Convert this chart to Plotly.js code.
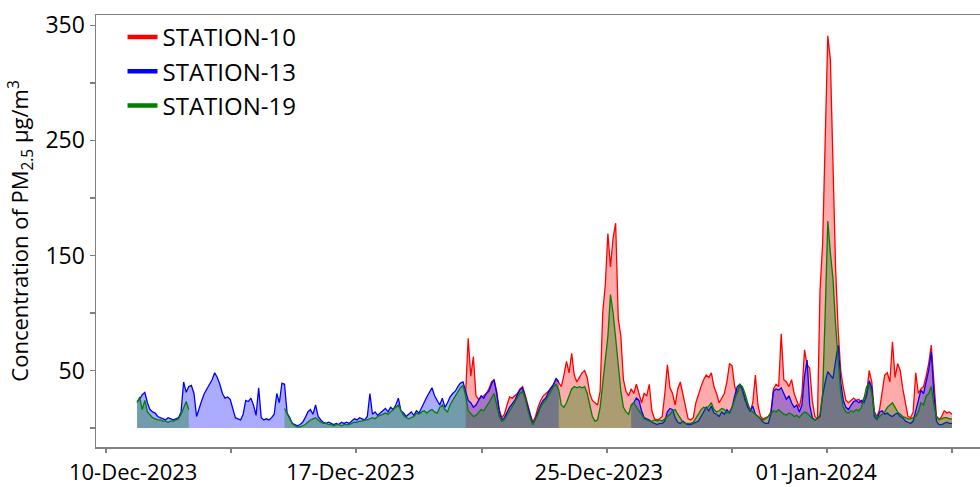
<!DOCTYPE html>
<html>
<head>
<meta charset="utf-8">
<script src="https://cdn.plot.ly/plotly-3.0.1.min.js"></script>
<style>html,body{margin:0;padding:0;background:#fff;}#chart{width:980px;height:487px;}</style>
</head>
<body>
<div id="chart"></div>
<script>
// Readings in 2-hour steps starting 2023-12-10 03:00
const START = '2023-12-10T03:00:00Z';
const STEP_HOURS = 2;

const station13 = [
23,25,29,31,22,16,14,13,10,9,
8,7,9,8,7,8,9,14,40,31,
36,37,30,10,18,24,30,34,38,42,
48,44,38,30,26,27,25,18,9,8,
7,12,24,23,26,20,11,35,9,7,
8,7,9,12,30,22,39,38,13,9,
4,3,2,3,5,9,14,16,12,20,
10,7,5,4,5,4,3,4,3,5,
4,5,4,6,8,7,9,8,7,10,
30,12,14,11,13,15,17,14,18,16,
20,26,15,13,10,12,14,11,15,13,
18,22,27,31,35,28,24,20,26,18,
22,27,30,32,36,39,40,33,24,22,
18,20,24,28,26,30,32,38,42,30,
14,7,9,14,18,21,24,29,33,35,
27,18,10,3,8,14,20,24,26,31,
34,38,43,40,null,null,null,null,null,null,
null,null,null,null,null,null,null,null,null,null,
null,null,null,null,null,null,null,null,null,null,
null,20,22,26,24,15,9,8,7,5,
4,3,4,4,6,14,17,16,9,5,
4,6,4,3,3,4,5,6,10,14,
18,15,19,13,12,10,14,12,16,13,
18,28,36,38,34,26,18,15,19,12,
10,8,5,4,4,12,32,34,33,35,
30,25,28,22,18,20,14,20,45,59,
20,9,7,8,10,28,40,49,46,43,
58,72,40,24,18,16,20,23,24,22,
24,22,28,41,35,10,7,14,15,12,
13,11,10,12,13,10,9,6,5,4,
6,14,24,33,30,40,50,66,30,6,
3,3,4,5,4,4
];

const station19 = [
22,27,16,24,14,11,9,8,7,7,
6,6,5,6,6,7,8,12,18,23,
16,null,null,null,null,null,null,null,null,null,
null,null,null,null,null,null,null,null,null,null,
null,null,null,null,null,null,null,null,null,null,
null,null,null,null,null,null,null,17,12,8,
4,2,1,1,2,3,5,7,8,9,
7,5,4,4,3,3,2,3,3,2,
3,3,3,4,5,5,6,6,7,7,
8,9,8,10,11,12,13,12,14,16,
18,20,15,11,9,8,9,10,13,12,
14,15,13,15,16,14,13,18,20,16,
14,20,24,28,32,35,37,28,15,12,
10,11,14,16,15,18,22,26,30,20,
10,6,7,11,15,18,22,26,30,32,
26,16,8,3,7,12,18,22,24,28,
32,36,38,33,20,18,22,28,34,36,
35,36,35,36,30,20,10,6,7,18,
40,62,80,116,100,78,55,32,18,14,
12,20,22,18,15,12,8,7,6,6,
7,6,7,6,8,10,12,15,16,12,
8,5,4,4,4,5,8,12,16,18,
17,19,22,16,14,15,17,16,13,14,
18,25,32,38,36,30,22,16,14,12,
10,8,7,8,10,13,15,14,16,14,
12,11,13,12,10,11,9,12,14,13,
10,8,7,8,12,30,100,180,152,130,
90,55,30,18,14,13,15,14,16,15,
18,26,36,38,30,14,8,10,12,14,
18,20,22,18,14,12,10,9,8,8,
9,10,14,22,20,28,30,36,20,10,
8,8,9,9,8,8
];

const station10 = [].concat(new Array(127).fill(null), [
30,78,45,
62,28,25,27,28,30,34,40,42,32,
16,9,12,20,27,26,28,30,34,36,
29,20,12,5,10,18,24,28,30,32,
35,38,43,40,36,46,58,48,65,46,
40,44,48,50,44,30,24,22,20,32,
100,125,169,140,165,178,95,80,42,32,
28,34,30,38,30,22,30,28,38,15,
8,7,8,10,30,55,35,30,20,34,
40,30,20,8,7,9,22,30,36,42,
46,44,48,36,30,22,26,30,40,56,
54,36,30,38,32,24,20,14,22,46,
20,10,8,9,10,14,34,38,36,82,
42,40,36,42,30,24,18,30,68,55,
52,24,10,8,120,160,250,341,320,220,
140,85,50,35,24,22,24,26,24,25,
22,26,30,50,40,14,10,16,30,46,
48,40,75,44,56,50,34,20,10,9,
14,48,30,34,36,45,56,72,40,10,
7,10,15,13,14,12
]);

const seriesNames = ['STATION-10', 'STATION-13', 'STATION-19'];
const lineColors = ['#ff0000', '#0000ff', '#008000'];
const fillColors = ['rgba(255,0,0,0.33)', 'rgba(0,0,255,0.33)', 'rgba(0,128,0,0.33)'];

const yLabelVals = [50, 150, 250, 350];
const yMinorStep = 50;
const xLabelDates = ['2023-12-10', '2023-12-17', '2023-12-25', '2024-01-01'];
const xLabelText = ['10-Dec-2023', '17-Dec-2023', '25-Dec-2023', '01-Jan-2024'];
const xTickMarks = ['2023-12-09 03:00', '2023-12-13 03:30', '2023-12-17 04:20', '2023-12-21 05:45',
                    '2023-12-25 06:15', '2023-12-29 07:00', '2024-01-01 08:25', '2024-01-05 09:00'];
const xRange = ['2023-12-08 19:15', '2024-01-06 06:40'];

const t0 = Date.parse(START);
const times = station13.map((_, i) =>
  new Date(t0 + i * STEP_HOURS * 3600e3).toISOString().slice(0, 16).replace('T', ' '));

// split a series into contiguous runs so each gap leaves an unfilled hole
function runs(arr) {
  const out = [];
  let cur = null;
  arr.forEach((v, i) => {
    if (v === null) { if (cur) { out.push(cur); cur = null; } return; }
    if (!cur) cur = {x: [], y: []};
    cur.x.push(times[i]); cur.y.push(v);
  });
  if (cur) out.push(cur);
  return out;
}

const allSeries = [station10, station13, station19];
const traces = [];
allSeries.forEach((s, k) => {
  runs(s).forEach(r => {
    traces.push({
      type: 'scatter', mode: 'lines', x: r.x, y: r.y,
      fill: 'tozeroy', fillcolor: fillColors[k],
      line: {color: lineColors[k], width: 1.3},
      showlegend: false, hoverinfo: 'skip'
    });
  });
});
allSeries.forEach((s, k) => {
  traces.push({
    type: 'scatter', mode: 'lines', x: [null], y: [null],
    name: seriesNames[k], legendgroup: 'g' + k,
    line: {color: lineColors[k], width: 4.5}, showlegend: true
  });
});
traces.push({type: 'scatter', mode: 'lines', x: [null], y: [null], xaxis: 'x2', yaxis: 'y',
             showlegend: false, hoverinfo: 'skip'});

const FONT = '"Open Sans", "Noto Sans", sans-serif';
const AX = '#808080';

const layout = {
  width: 980, height: 487,
  margin: {l: 96, r: 0, t: 15, b: 40},
  paper_bgcolor: '#fff', plot_bgcolor: '#fff',
  font: {family: FONT, color: '#000'},
  showlegend: true,
  legend: {
    x: 0.03, y: 1.0, xanchor: 'left', yanchor: 'top',
    bgcolor: 'rgba(0,0,0,0)', font: {size: 24, family: FONT, color: '#000'},
    traceorder: 'grouped', tracegroupgap: 0
  },
  xaxis: {
    type: 'date', range: xRange,
    tickmode: 'array', tickvals: xLabelDates, ticktext: xLabelText,
    ticks: 'outside', ticklen: 5, tickcolor: 'rgba(0,0,0,0)',
    tickfont: {size: 22, family: FONT, color: '#000'},
    showline: true, mirror: true, linecolor: AX, linewidth: 1.5,
    showgrid: false, zeroline: false
  },
  xaxis2: {
    type: 'date', range: xRange, overlaying: 'x', anchor: 'y', side: 'bottom',
    tickmode: 'array', tickvals: xTickMarks,
    showticklabels: false, ticks: 'outside', ticklen: 5, tickcolor: AX, tickwidth: 1.5,
    showline: false, showgrid: false, zeroline: false
  },
  yaxis: {
    range: [-16.5, 359],
    tickmode: 'array', tickvals: yLabelVals,
    ticks: 'outside', ticklen: 5, tickcolor: AX, tickwidth: 1.5,
    minor: {tick0: 0, dtick: yMinorStep, ticks: 'outside', ticklen: 5, tickcolor: AX, tickwidth: 1.5, showgrid: false},
    tickfont: {size: 23, family: FONT, color: '#000'},
    showline: true, linecolor: AX, linewidth: 1.5,
    showgrid: false, zeroline: false,
    title: {text: 'Concentration of PM<sub>2.5</sub> μg/m<sup>3</sup>',
            font: {size: 22, family: FONT, color: '#000'}, standoff: 10}
  }
};

Plotly.newPlot('chart', traces, layout, {displayModeBar: false, staticPlot: true});
</script>
</body>
</html>
